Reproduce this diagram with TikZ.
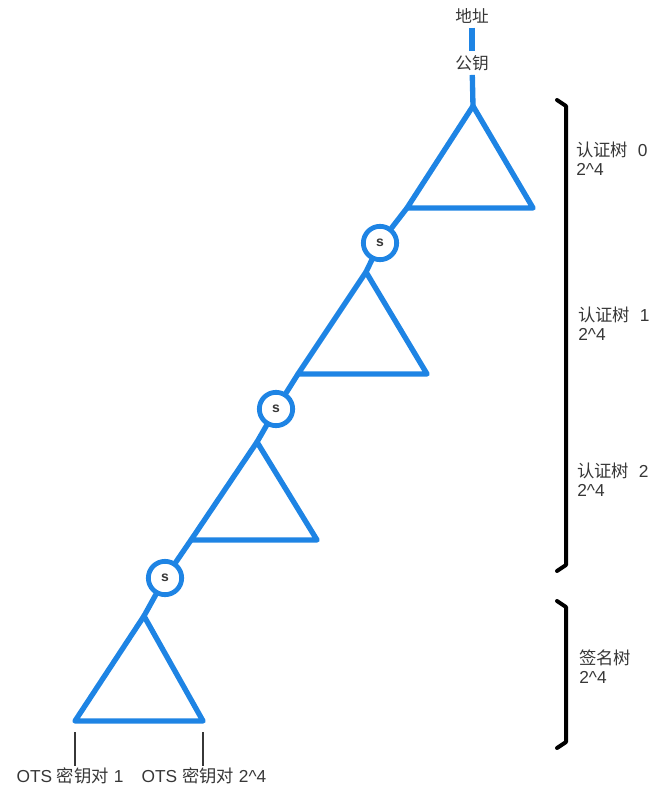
\documentclass[tikz,border=0pt]{standalone}
\usepackage{fontspec}
\setmainfont{Liberation Sans}
\newfontfamily\cjk{Noto Sans CJK SC}
\usetikzlibrary{positioning}
\definecolor{birupohon}{RGB}{30,132,228}
\definecolor{teksabu}{RGB}{55,55,55}

\begin{document}
\begin{tikzpicture}[x=0.75pt, y=-0.75pt,
  font=\fontsize{13}{14}\selectfont, text=teksabu,
  garis/.style={draw=birupohon, line width=4pt, line join=round, line cap=round},
  tandaS/.style={draw=birupohon, circle, line width=3.6pt, minimum size=25pt, inner sep=0pt, fill=white, font=\fontsize{10.5}{10.5}\selectfont\bfseries},
  kunci/.style={inner sep=3pt, font=\fontsize{12.5}{13.5}\selectfont\cjk},
  ket/.style={anchor=north west, align=left, inner sep=0pt},
  kurung/.style={draw=black, line width=3pt, line cap=round, line join=round},
  tipis/.style={draw=teksabu, line width=1pt}]

  \useasboundingbox (0,0) rectangle (653,791);

  % Segitiga pohon (puncak, kiri, kanan, alas)
  \foreach \i/\ax/\ay/\lx/\rx/\by in {0/473/106/407/533/208, 1/366/272/298/427/374, 2/257/442/191/317/540, 3/144/616/75/203/721} {
    \coordinate (t\i a) at (\ax,\ay);
    \coordinate (t\i l) at (\lx,\by);
    \coordinate (t\i r) at (\rx,\by);
    \draw[garis] (t\i a) -- (t\i l) -- (t\i r) -- cycle;
  }

  % Alamat dan kunci publik di atas
  \node[kunci] (alamat) at (472,16) {地址};
  \node[kunci] (publik) at (472,63) {公钥};
  \draw[garis, line cap=butt] (alamat) -- (publik);
  \draw[garis, line cap=butt] (publik) -- (t0a);

  % Simpul tanda tangan S
  \node[tandaS] (S0) at (380,243) {s};
  \node[tandaS] (S1) at (276,409) {s};
  \node[tandaS] (S2) at (165,578) {s};

  \draw[garis] (S0) -- (t0l);
  \draw[garis] (S0) -- (t1a);
  \draw[garis] (S1) -- (t1l);
  \draw[garis] (S1) -- (t2a);
  \draw[garis] (S2) -- (t2l);
  \draw[garis] (S2) -- (t3a);

  % Kurung kanan
  \draw[kurung] (557,100) -- (566,106) -- (566,565) -- (557,571);
  \draw[kurung] (557,601) -- (566,607) -- (566,742) -- (557,748);

  % Keterangan pohon
  \node[ket] (ket0) at (576,142) {{\cjk 认证树}\ \ 0\\2\textasciicircum{}4};
  \node[ket] (ket1) at (578,307) {{\cjk 认证树}\ \ 1\\2\textasciicircum{}4};
  \node[ket] (ket2) at (577,463) {{\cjk 认证树}\ \ 2\\2\textasciicircum{}4};
  \node[ket] (ket3) at (579,650) {{\cjk 签名树}\\2\textasciicircum{}4};

  % Pasangan kunci OTS di bawah
  \node[inner sep=1pt] (ots1) at (70,776) {OTS {\cjk 密钥对} 1};
  \node[inner sep=1pt] (ots2) at (204,776) {OTS {\cjk 密钥对} 2\textasciicircum{}4};
  \coordinate (pk1) at (75,732);
  \coordinate (pk2) at (203,732);
  \draw[tipis] (pk1) -- (pk1 |- ots1.north);
  \draw[tipis] (pk2) -- (pk2 |- ots2.north);

\end{tikzpicture}
\end{document}
